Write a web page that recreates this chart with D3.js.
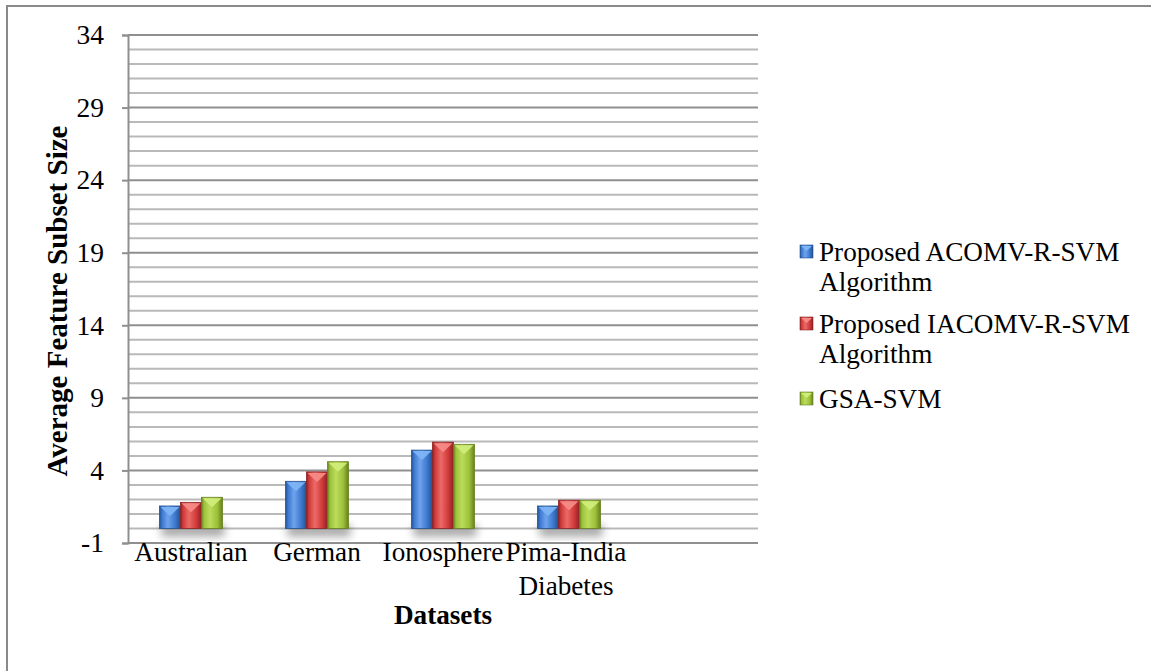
<!DOCTYPE html>
<html>
<head>
<meta charset="utf-8">
<script src="https://cdn.jsdelivr.net/npm/d3@7"></script>
<style>
  html, body { margin: 0; padding: 0; background: #fff; }
  svg { display: block; }
  text { font-family: "Liberation Serif", "Times New Roman", serif; fill: #000; }
</style>
</head>
<body>
<svg id="chart" width="1151" height="671"></svg>
<script>
// Average feature subset size per dataset and method
const categories = ["Australian", "German", "Ionosphere", "Pima-India Diabetes", ""];
const seriesNames = [
  ["Proposed ACOMV-R-SVM", "Algorithm"],
  ["Proposed IACOMV-R-SVM", "Algorithm"],
  ["GSA-SVM"]
];
const acomvValues  = [1.55, 3.25, 5.4, 1.55];
const iacomvValues = [1.8, 3.9, 5.95, 1.95];
const gsaValues    = [2.15, 4.6, 5.8, 1.95];
const yTicks = [-1, 4, 9, 14, 19, 24, 29, 34];
const categoryLabelLines = [["Australian"], ["German"], ["Ionosphere"], ["Pima-India", "Diabetes"], []];

const FONT = "Liberation Serif, Times New Roman, serif";
const FS = 27.2;

const series = [acomvValues, iacomvValues, gsaValues];
const colors = [
  { base: "#3c78cf", light: "#6fa3ec", dark: "#23518f", top: "#7db4f5" },
  { base: "#cf3a3a", light: "#ec6a67", dark: "#8e2223", top: "#f58a86" },
  { base: "#9cc13a", light: "#bcdc5c", dark: "#66801f", top: "#d0ec7a" }
];

const svg = d3.select("#chart");
const W = 1151, H = 671;
const plot = { left: 128, right: 758, top: 35, bottom: 543 };

// Outer chart frame (runs past the right and bottom edge)
svg.append("rect")
  .attr("x", 7).attr("y", 6).attr("width", W + 20).attr("height", H + 20)
  .attr("fill", "none").attr("stroke", "#8a8a8a").attr("stroke-width", 2);

const defs = svg.append("defs");
colors.forEach((c, i) => {
  const g = defs.append("linearGradient").attr("id", "bar" + i)
    .attr("x1", "0%").attr("x2", "100%").attr("y1", "0%").attr("y2", "0%");
  g.append("stop").attr("offset", "0%").attr("stop-color", c.dark);
  g.append("stop").attr("offset", "12%").attr("stop-color", c.base);
  g.append("stop").attr("offset", "40%").attr("stop-color", c.light);
  g.append("stop").attr("offset", "75%").attr("stop-color", c.base);
  g.append("stop").attr("offset", "100%").attr("stop-color", c.dark);
});
defs.append("filter").attr("id", "shadow").attr("x", "-30%").attr("y", "-30%")
  .attr("width", "160%").attr("height", "160%")
  .append("feGaussianBlur").attr("stdDeviation", 4);

const y = d3.scaleLinear().domain([-1, 34]).range([plot.bottom, plot.top]);
const x = d3.scaleBand().domain(d3.range(categories.length))
  .range([plot.left, plot.right]).paddingInner(0).paddingOuter(0);
const inner = d3.scaleBand().domain(d3.range(series.length))
  .range([0, x.bandwidth() / 2]).padding(0);

// Grid lines: minor every unit, major on the tick values
const minor = d3.range(0, 34).filter(v => !yTicks.includes(v));
const grid = svg.append("g");
grid.selectAll("line.minor").data(minor).join("line")
  .attr("class", "minor")
  .attr("x1", plot.left).attr("x2", plot.right)
  .attr("y1", d => y(d)).attr("y2", d => y(d))
  .attr("stroke", "#b9b9b9").attr("stroke-width", 2);
grid.selectAll("line.major").data(yTicks.filter(v => v > -1)).join("line")
  .attr("class", "major")
  .attr("x1", plot.left).attr("x2", plot.right)
  .attr("y1", d => y(d)).attr("y2", d => y(d))
  .attr("stroke", "#8f8f8f").attr("stroke-width", 2);

// Y axis
const yAxis = d3.axisLeft(y).tickValues(yTicks).tickSize(6).tickPadding(18).tickFormat(d => String(d));
const ya = svg.append("g").attr("transform", `translate(${plot.left},0)`).call(yAxis);
ya.attr("font-family", FONT).attr("font-size", 27.5);
ya.select(".domain").attr("stroke", "#8f8f8f").attr("stroke-width", 2);
ya.selectAll(".tick line").attr("stroke", "#8f8f8f").attr("stroke-width", 2);
ya.selectAll(".tick text").attr("fill", "#000");

// X axis line at the bottom of the value range
svg.append("line")
  .attr("x1", plot.left).attr("x2", plot.right)
  .attr("y1", y(-1)).attr("y2", y(-1))
  .attr("stroke", "#8f8f8f").attr("stroke-width", 2);

// Bars
const barsData = [];
series.forEach((vals, s) => vals.forEach((v, c) => barsData.push({ s, c, v })));
const groupLeft = c => x(c) + x.bandwidth() / 4;

// soft drop shadows beneath each bar
svg.append("g").attr("filter", "url(#shadow)")
  .selectAll("rect").data(barsData).join("rect")
  .attr("x", d => groupLeft(d.c) + inner(d.s) + 2)
  .attr("y", d => y(0) - 4)
  .attr("width", inner.bandwidth())
  .attr("height", 12)
  .attr("fill", "#000").attr("opacity", 0.35);

const bars = svg.append("g").selectAll("g").data(barsData).join("g");
bars.append("rect")
  .attr("x", d => groupLeft(d.c) + inner(d.s))
  .attr("y", d => y(d.v))
  .attr("width", inner.bandwidth())
  .attr("height", d => y(0) - y(d.v))
  .attr("fill", d => `url(#bar${d.s})`)
  .attr("stroke", d => colors[d.s].dark).attr("stroke-width", 0.8);
bars.append("path")
  .attr("d", d => {
    const x0 = groupLeft(d.c) + inner(d.s) + 1, x1 = x0 + inner.bandwidth() - 2;
    const t = y(d.v) + 1;
    return `M${x0},${t}L${x1},${t}L${(x0 + x1) / 2},${t + 9}Z`;
  })
  .attr("fill", d => colors[d.s].top).attr("opacity", 0.95);

// Category labels
const catG = svg.append("g");
categoryLabelLines.forEach((lines, i) => {
  lines.forEach((ln, j) => {
    catG.append("text")
      .attr("x", x(i) + x.bandwidth() / 2 - (i === 3 ? 3 : 0))
      .attr("y", 561 + j * 34)
      .attr("text-anchor", "middle")
      .attr("font-size", FS)
      .text(ln);
  });
});

// Axis titles
svg.append("text")
  .attr("x", (plot.left + plot.right) / 2).attr("y", 624)
  .attr("text-anchor", "middle").attr("font-size", FS).attr("font-weight", "bold")
  .text("Datasets");
svg.append("text")
  .attr("transform", `translate(67,301) rotate(-90)`)
  .attr("text-anchor", "middle").attr("font-size", 29).attr("font-weight", "bold")
  .text("Average Feature Subset Size");

// Legend
const legendY = [261, 333, 408];
const legend = svg.append("g");
seriesNames.forEach((lines, i) => {
  const c = colors[i];
  const sy = legendY[i] - 16;
  legend.append("rect").attr("x", 800).attr("y", sy).attr("width", 13).attr("height", 13)
    .attr("fill", `url(#bar${i})`).attr("stroke", c.dark).attr("stroke-width", 0.6);
  legend.append("path")
    .attr("d", `M801,${sy + 1}L812,${sy + 1}L806.5,${sy + 6}Z`)
    .attr("fill", c.top);
  lines.forEach((ln, j) => {
    legend.append("text").attr("x", 819).attr("y", legendY[i] + j * 29.5)
      .attr("font-size", FS).text(ln);
  });
});
</script>
</body>
</html>
